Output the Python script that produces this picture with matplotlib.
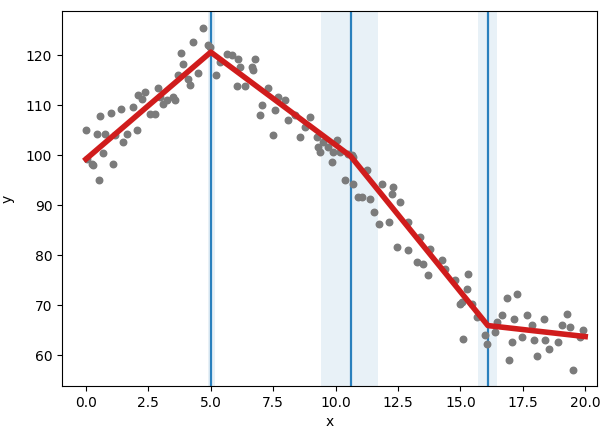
import numpy as np
import matplotlib
matplotlib.use('Agg')
import matplotlib.pyplot as plt

x_pts = [0.0, 0.03, 0.23, 0.27, 0.43, 0.53, 0.56, 0.69, 0.76, 0.99, 1.10, 1.16, 1.40, 1.50, 1.63,
         1.90, 2.03, 2.10, 2.23, 2.36, 2.57, 2.77, 2.90, 2.97, 3.10, 3.23, 3.50, 3.57, 3.70, 3.79,
         3.90, 4.10, 4.17, 4.30, 4.50, 4.70, 4.90, 4.97,
         5.20, 5.37, 5.64, 5.84, 6.04, 6.10, 6.17, 6.37, 6.64, 6.71, 6.77, 6.97, 7.04, 7.31, 7.51,
         7.58, 7.71, 7.98, 8.11, 8.38, 8.58, 8.78, 8.98, 9.25, 9.31, 9.38, 9.51, 9.71, 9.85, 9.91,
         10.05, 10.18, 10.38, 10.51, 10.65, 10.71, 10.71,
         10.91, 11.05, 11.25, 11.38, 11.52, 11.72, 11.85, 12.12, 12.25, 12.32, 12.45, 12.59, 12.92,
         12.92, 13.25, 13.39, 13.52, 13.72, 13.79, 14.26, 14.39, 14.79, 14.99, 15.06, 15.12, 15.25,
         15.32, 15.46, 15.66, 15.99, 16.06,
         16.39, 16.46, 16.66, 16.86, 16.93, 17.06, 17.13, 17.26, 17.46, 17.66, 17.86, 17.93, 18.06,
         18.33, 18.40, 18.53, 18.93, 19.06, 19.27, 19.40, 19.53, 19.80, 19.93]
y_pts = [105.0, 99.3, 98.3, 98.0, 104.3, 95.1, 107.8, 100.5, 104.3, 108.5, 98.3, 104.0, 109.2, 102.7, 104.3,
         109.7, 105.0, 112.0, 111.3, 112.7, 108.3, 108.3, 113.5, 111.7, 110.3, 111.0, 111.7, 111.0, 116.0, 120.5,
         118.3, 115.3, 114.0, 122.7, 116.5, 125.5, 122.0, 121.7,
         116.0, 118.7, 120.3, 120.0, 113.8, 119.3, 117.7, 113.8, 117.7, 117.0, 119.3, 108.0, 110.0, 113.5, 104.0,
         109.0, 111.7, 111.0, 107.0, 108.0, 103.7, 105.7, 107.7, 103.7, 101.7, 100.7, 102.7, 101.7, 98.7, 100.7,
         103.0, 100.7, 95.0, 100.3, 100.0, 94.3, 99.7,
         91.7, 91.7, 97.0, 91.3, 88.7, 86.3, 94.3, 86.7, 92.3, 93.7, 81.7, 90.7, 86.7,
         81.0, 78.7, 83.7, 78.3, 76.0, 81.3, 79.0, 77.3, 75.0, 70.3, 70.7, 63.3, 73.3,
         76.3, 70.3, 67.7, 64.0, 62.3,
         64.7, 66.7, 68.0, 71.5, 59.0, 62.7, 67.3, 72.2, 63.7, 68.1, 66.0, 63.0, 59.8,
         67.3, 63.0, 61.3, 62.7, 66.0, 68.2, 65.7, 57.1, 63.7, 65.0]

# fitted piecewise line
fit_x = [0.0, 5.0, 10.6, 16.1, 20.0]
fit_y = [99.2, 120.6, 99.8, 65.9, 63.7]

# breakpoints and their intervals
breaks = [5.0, 10.6, 16.1]
ci_lo = [4.9, 9.4, 15.7]
ci_hi = [5.15, 11.7, 16.45]

fig = plt.figure(figsize=(6.02, 4.28), dpi=100)
ax = fig.add_axes([0.103, 0.098, 0.889, 0.876])

ax.scatter(x_pts, y_pts, s=22, color='#7b7b7b', zorder=2)
ax.plot(fit_x, fit_y, '-', color='#d01c1c', lw=4, zorder=3)

for i in range(len(breaks)):
    ax.axvspan(ci_lo[i], ci_hi[i], color='#1f77b4', alpha=0.1, lw=0, zorder=0)
    ax.axvline(breaks[i], color='#2a80bd', lw=1.6, zorder=1)

ax.set_xlim(-0.96, 20.48)
ax.set_ylim(53.8, 128.8)
ax.set_xticks(np.arange(0, 20.1, 2.5))
ax.set_yticks(np.arange(60, 121, 10))
ax.set_xlabel('x')
ax.set_ylabel('y')
ax.yaxis.set_label_coords(-0.088, 0.5)

fig.savefig('out.png', dpi=100)
